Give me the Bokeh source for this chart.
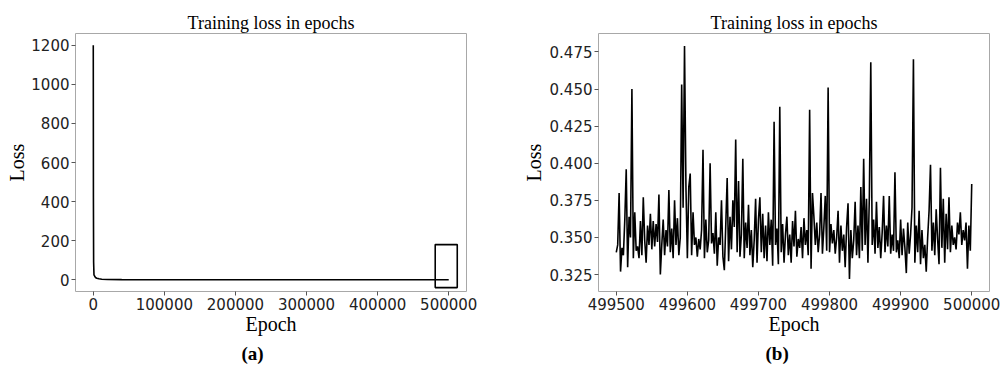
from bokeh.plotting import figure
from bokeh.layouts import row
from bokeh.models import FixedTicker, PrintfTickFormatter, Title, Range1d
from bokeh.embed import file_html
from bokeh.resources import INLINE

# ---------------- data ----------------
# (a) full training run
full_epochs = [0, 200, 500, 1000, 2000, 3000, 5000, 8000, 12000, 20000,
               40000, 100000, 200000, 300000, 400000, 500000]
full_loss = [1200, 420, 90, 25, 18, 12, 8, 5, 3, 1.5,
             0.8, 0.5, 0.4, 0.37, 0.36, 0.35]
# zoom box drawn on (a)
box_epoch = [481000, 512000]
box_loss = [-40, 180]

# (b) last 500 epochs (every 2nd epoch)
zoom_epochs = list(range(499500, 500001, 2))
zoom_loss = [
    0.340, 0.345, 0.380, 0.327, 0.343, 0.338, 0.362, 0.396, 0.330, 0.364,
    0.350, 0.450, 0.336, 0.367, 0.341, 0.344, 0.336, 0.361, 0.338, 0.377,
    0.348, 0.333, 0.358, 0.345, 0.366, 0.342, 0.361, 0.344, 0.359, 0.347,
    0.379, 0.325, 0.345, 0.362, 0.338, 0.355, 0.344, 0.382, 0.340, 0.356,
    0.336, 0.375, 0.345, 0.363, 0.338, 0.350, 0.453, 0.370, 0.479, 0.384,
    0.336, 0.384, 0.393, 0.338, 0.367, 0.345, 0.350, 0.337, 0.349, 0.342,
    0.355, 0.409, 0.336, 0.362, 0.340, 0.348, 0.400, 0.346, 0.353, 0.339,
    0.367, 0.331, 0.350, 0.345, 0.375, 0.337, 0.328, 0.358, 0.390, 0.334,
    0.364, 0.342, 0.375, 0.357, 0.416, 0.340, 0.388, 0.337, 0.352, 0.403,
    0.336, 0.360, 0.343, 0.372, 0.338, 0.355, 0.330, 0.348, 0.376, 0.333,
    0.362, 0.377, 0.340, 0.366, 0.336, 0.358, 0.334, 0.367, 0.345, 0.362,
    0.331, 0.428, 0.345, 0.356, 0.332, 0.438, 0.340, 0.359, 0.333, 0.352,
    0.364, 0.338, 0.352, 0.333, 0.361, 0.344, 0.368, 0.337, 0.349, 0.343,
    0.357, 0.336, 0.363, 0.345, 0.355, 0.338, 0.436, 0.329, 0.380, 0.364,
    0.345, 0.360, 0.340, 0.352, 0.380, 0.339, 0.357, 0.378, 0.341, 0.451,
    0.340, 0.359, 0.346, 0.355, 0.339, 0.350, 0.368, 0.333, 0.358, 0.341,
    0.352, 0.330, 0.357, 0.373, 0.322, 0.355, 0.336, 0.348, 0.374, 0.338,
    0.358, 0.336, 0.384, 0.341, 0.403, 0.345, 0.376, 0.333, 0.378, 0.468,
    0.345, 0.362, 0.339, 0.374, 0.343, 0.357, 0.336, 0.353, 0.378, 0.340,
    0.358, 0.344, 0.378, 0.339, 0.352, 0.341, 0.394, 0.340, 0.348, 0.336,
    0.362, 0.338, 0.356, 0.343, 0.326, 0.360, 0.339, 0.352, 0.370, 0.470,
    0.333, 0.358, 0.340, 0.368, 0.332, 0.355, 0.336, 0.345, 0.327, 0.350,
    0.368, 0.399, 0.341, 0.360, 0.338, 0.369, 0.349, 0.332, 0.397, 0.343,
    0.376, 0.333, 0.366, 0.342, 0.377, 0.340, 0.358, 0.345, 0.350, 0.342,
    0.360, 0.352, 0.367, 0.345, 0.355, 0.348, 0.360, 0.329, 0.358, 0.341,
    0.386,
]

# tick positions
a_xticks = [0, 100000, 200000, 300000, 400000, 500000]
a_yticks = [0, 200, 400, 600, 800, 1000, 1200]
b_xticks = [499500, 499600, 499700, 499800, 499900, 500000]
b_yticks = [0.325, 0.350, 0.375, 0.400, 0.425, 0.450, 0.475]

SERIF = "Liberation Serif"
SANS = "DejaVu Sans"


def style(p, xticks, yticks, xfmt, yfmt, caption, cap_offset, ylab_standoff):
    p.title.text_font = SERIF
    p.title.text_font_size = "18px"
    p.title.text_font_style = "normal"
    p.title.text_color = "black"
    p.title.align = "center"
    p.title.standoff = 2
    p.outline_line_color = "#a8a8a8"
    p.outline_line_width = 1
    p.xgrid.visible = False
    p.ygrid.visible = False
    for ax in (p.xaxis[0], p.yaxis[0]):
        ax.axis_line_color = None
        ax.major_tick_line_color = "#555555"
        ax.major_tick_out = 4
        ax.major_tick_in = 0
        ax.minor_tick_line_color = None
        ax.major_label_text_font = SANS
        ax.major_label_text_font_size = "15px"
        ax.major_label_text_color = "#222222"
        ax.major_label_standoff = 2
        ax.axis_label_text_font = SERIF
        ax.axis_label_text_font_size = "20px"
        ax.axis_label_text_font_style = "normal"
        ax.axis_label_text_color = "black"
    p.xaxis[0].ticker = FixedTicker(ticks=xticks)
    p.yaxis[0].ticker = FixedTicker(ticks=yticks)
    p.xaxis[0].formatter = PrintfTickFormatter(format=xfmt)
    p.yaxis[0].formatter = PrintfTickFormatter(format=yfmt)
    p.xaxis[0].axis_label = "Epoch"
    p.yaxis[0].axis_label = "Loss"
    p.xaxis[0].axis_label_standoff = 0
    p.yaxis[0].axis_label_standoff = ylab_standoff
    p.add_layout(Title(text=caption, align="left", text_font=SERIF,
                       text_font_size="19px", text_font_style="bold",
                       text_color="black", offset=cap_offset, standoff=7), "below")


# ---------------- figure (a) ----------------
pa = figure(frame_width=391, frame_height=258, output_backend="svg", toolbar_location=None,
            title="Training loss in epochs",
            x_range=Range1d(-25000, 525000), y_range=Range1d(-60, 1260),
            min_border_left=75, min_border_right=34, min_border_top=33,
            min_border_bottom=76)
pa.line(full_epochs, full_loss, line_color="black", line_width=1.6)
pa.quad(left=[box_epoch[0]], right=[box_epoch[1]], bottom=[box_loss[0]], top=[box_loss[1]],
        fill_color=None, line_color="black", line_width=1.6)
style(pa, a_xticks, a_yticks, "%d", "%d", "(a)", 166, 0)

# ---------------- figure (b) ----------------
pb = figure(frame_width=391, frame_height=258, output_backend="svg", toolbar_location=None,
            title="Training loss in epochs",
            x_range=Range1d(499475, 500025), y_range=Range1d(0.3136, 0.4874),
            min_border_left=98, min_border_right=13, min_border_top=33,
            min_border_bottom=76)
pb.line(zoom_epochs, zoom_loss, line_color="black", line_width=1.6)
style(pb, b_xticks, b_yticks, "%d", "%.3f", "(b)", 167, 2)

layout = row(pa, pb)
open("out.html", "w").write(file_html(layout, INLINE))
